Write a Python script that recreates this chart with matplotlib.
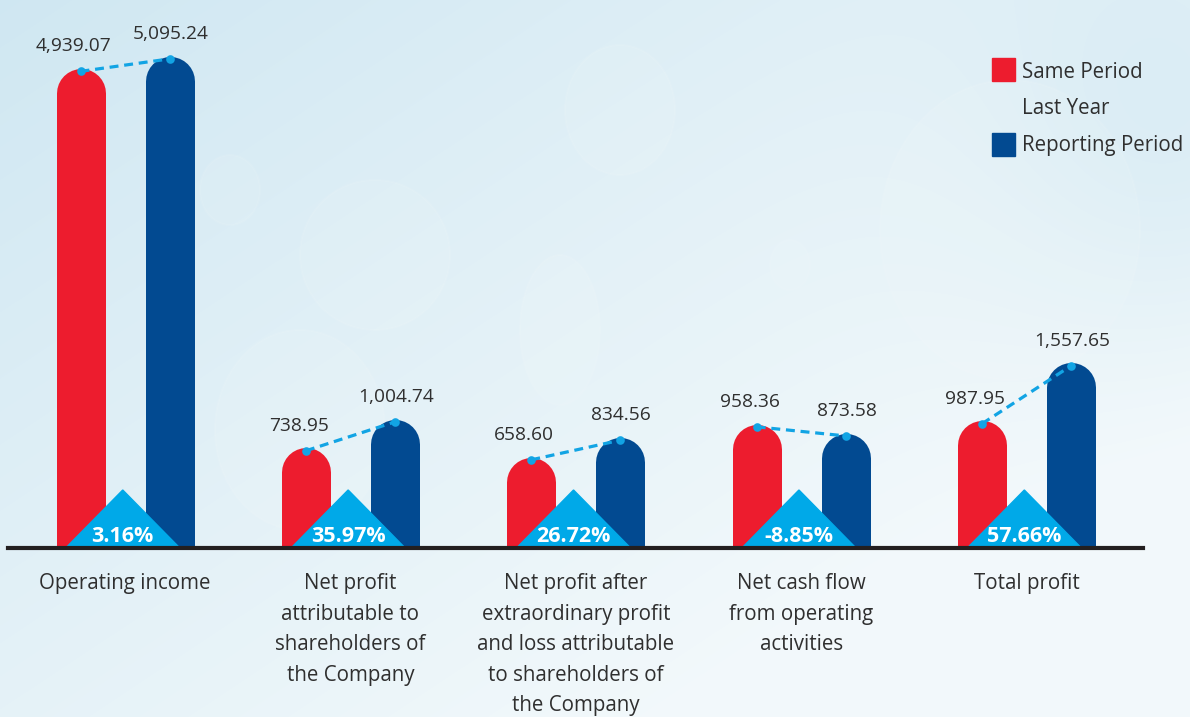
import numpy as np
import matplotlib.pyplot as plt
from matplotlib.patches import Polygon, Rectangle, Ellipse
from matplotlib.transforms import offset_copy

plt.rcParams['font.family'] = ['Open Sans', 'DejaVu Sans']

# data
categories = ['Operating income',
              'Net profit\nattributable to\nshareholders of\nthe Company',
              'Net profit after\nextraordinary profit\nand loss attributable\nto shareholders of\nthe Company',
              'Net cash flow\nfrom operating\nactivities',
              'Total profit']
last_year = [4939.07, 738.95, 658.60, 958.36, 987.95]
reporting = [5095.24, 1004.74, 834.56, 873.58, 1557.65]
growth = ['3.16%', '35.97%', '26.72%', '-8.85%', '57.66%']
series_names = ['Same Period\nLast Year', 'Reporting Period']

red = '#ed1c2e'
blue = '#024a91'
cyan = '#00a9e8'
dot_c = '#12a4e4'
txt_c = '#2f2f2f'

W, H = 1190, 717
fig = plt.figure(figsize=(W / 100, H / 100), dpi=100)

# watery light-blue background
bg = fig.add_axes([0, 0, 1, 1], zorder=0)
yy, xx = np.mgrid[0:H, 0:W]
xn, yn = xx / W, yy / H
w = 0.2 + 0.55 * xn + 0.5 * yn - 0.35 * np.exp(-((xn - 1.0) ** 2 / 0.03 + (yn - 0.2) ** 2 / 0.1))
w = np.clip(w, 0, 1)
dark = np.array([0.78, 0.89, 0.94])
light = np.array([0.95, 0.975, 0.985])
img = dark + (light - dark) * w[..., None]
bg.imshow(img, extent=[0, W, H, 0], aspect='auto')
for (cx, cy, ew, eh) in [(375, 255, 150, 150), (620, 110, 110, 130), (230, 190, 60, 70),
                         (790, 265, 40, 50), (560, 330, 80, 150), (1010, 230, 260, 300),
                         (300, 430, 170, 200)]:
    bg.add_patch(Ellipse((cx, cy), ew, eh, facecolor='white', alpha=0.08,
                         edgecolor='white', lw=1.5))
bg.set_xlim(0, W)
bg.set_ylim(H, 0)
bg.axis('off')

# legend (pixel coords on background axes)
bg.add_patch(Rectangle((992, 58), 23, 23, color=red))
bg.add_patch(Rectangle((992, 133), 23, 23, color=blue))
bg.text(1022, 72, series_names[0].split('\n')[0], va='center', ha='left', fontsize=14.8, color=txt_c)
bg.text(1022, 108, series_names[0].split('\n')[1], va='center', ha='left', fontsize=14.8, color=txt_c)
bg.text(1022, 146, series_names[1], va='center', ha='left', fontsize=14.8, color=txt_c)

# main axes, baseline at 548 px from top
base_px = 548
ax = fig.add_axes([0, (H - base_px) / H, 1, base_px / H], zorder=1)
ax.patch.set_alpha(0)

p = 0.825
k = np.exp(-0.844)
fwd = lambda v: np.sign(v) * np.abs(v) ** p
inv = lambda v: np.sign(v) * np.abs(v) ** (1 / p)
ax.set_yscale('function', functions=(fwd, inv))
ax.set_ylim(0, (base_px / k) ** (1 / p))

step = 225.4
ax.set_xlim(-125 / step, (W - 125) / step)
d = 44.5 / step
bar_pt = 49 * 0.72
r_pt = bar_pt / 2

bar_tr = offset_copy(ax.transData, fig=fig, y=-r_pt, units='points')
dot_tr = offset_copy(ax.transData, fig=fig, y=-2, units='points')
xt = ax.get_xaxis_transform()

x = np.arange(len(categories))
for i in x:
    for xi, v, c, dx in [(i - d, last_year[i], red, -5), (i + d, reporting[i], blue, 0.7)]:
        ax.plot([xi, xi], [0, v], color=c, lw=bar_pt, solid_capstyle='round',
                transform=bar_tr, zorder=2)
        ax.annotate(f'{v:,.2f}', (xi, v), xytext=(dx, 16), textcoords='offset points',
                    ha='center', va='center', fontsize=13.8, color=txt_c)
    ax.plot([i - d, i + d], [last_year[i], reporting[i]], color=dot_c, lw=2.3,
            dashes=(2.8, 1.8), transform=dot_tr, zorder=4)
    ax.plot([i - d, i + d], [last_year[i], reporting[i]], 'o', color=dot_c, ms=6.2,
            mec='none', transform=dot_tr, zorder=4)
    cx = i - 0.01
    ax.add_patch(Polygon([(cx - 0.253, 0), (cx, 58 / base_px), (cx + 0.253, 0)],
                         closed=True, color=cyan, transform=xt, zorder=3, clip_on=False))
    ax.text(cx, 12 / base_px, growth[i], transform=xt, ha='center', va='center',
            color='white', fontsize=15.5, fontweight='bold', zorder=5)
    ax.text(i, -25 / base_px, categories[i], transform=xt, ha='center', va='top',
            fontsize=14.8, color=txt_c, linespacing=1.6)

ax.axhline(0, xmin=8 / W, xmax=1143 / W, color='#231f20', lw=3, clip_on=False, zorder=6)
ax.axis('off')

fig.savefig('out.png', dpi=100)
